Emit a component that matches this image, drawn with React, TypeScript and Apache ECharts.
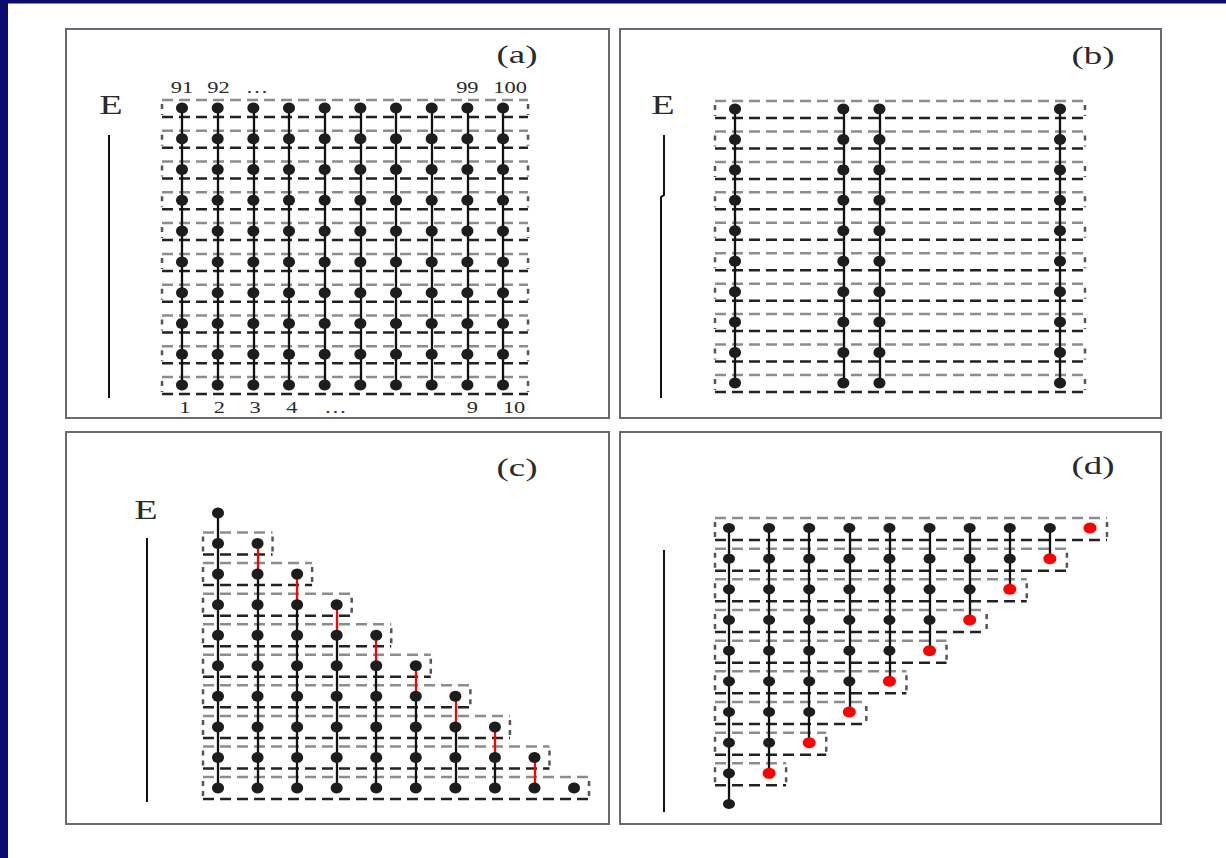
import React, { useEffect, useRef } from "react";
import * as echarts from "echarts";

const W = 1226;
const H = 858;

// ---- data ----
const gridCols = [1, 2, 3, 4, 5, 6, 7, 8, 9, 10];
const gridRows = [1, 2, 3, 4, 5, 6, 7, 8, 9, 10];
const panelBCols = [1, 4, 5, 10];
const topLabels = ["91", "92", "…", "99", "100"];
const topLabelCols = [1, 2.02, 3.1, 9, 10.2];
const bottomLabels = ["1", "2", "3", "4", "…", "9", "10"];
const bottomLabelCols = [1.08, 2.05, 3.05, 4.08, 5.3, 9.14, 10.31];
// panel (c): column k starts at row cTopRow[k-1] and ends at row 10
const cTopRow = [1, 2, 3, 4, 5, 6, 7, 8, 9, 10];
// panel (c): columns whose first link is red
const cRedCols = [2, 3, 4, 5, 6, 7, 8, 9];
// panel (c): dashed boxes [row, last column]
const cBoxes = [[2, 2], [3, 3], [4, 4], [5, 5], [6, 6], [7, 7], [8, 8], [9, 9], [10, 10]];
// panel (d): column k runs from row 1 to row dBottomRow[k-1]
const dBottomRow = [10, 9, 8, 7, 6, 5, 4, 3, 2, 1];
// panel (d): columns whose last node is red
const dRedCols = [2, 3, 4, 5, 6, 7, 8, 9, 10];
// panel (d): dashed boxes [row, last column]
const dBoxes = [[1, 10], [2, 9], [3, 8], [4, 7], [5, 6], [6, 5], [7, 4], [8, 3], [9, 2]];

const FONT = "'Liberation Serif', 'Times New Roman', serif";
const DOT = "#1d1d1d";
const RED = "#ff0000";
const STRETCH = 1.42;

type Pad = { l: number; r: number; t: number; b: number };

function boxSeries(idx: number, boxes: number[][], pad: Pad) {
  return {
    type: "custom",
    xAxisIndex: idx,
    yAxisIndex: idx,
    silent: true,
    clip: false,
    z: 1,
    data: boxes,
    renderItem: (params: any, api: any) => {
      const row = api.value(0);
      const last = api.value(1);
      const p1 = api.coord([1, row]);
      const p2 = api.coord([last, row]);
      const x0 = p1[0] - pad.l;
      const x1 = p2[0] + pad.r;
      const y0 = p1[1] - pad.t;
      const y1 = p1[1] + pad.b;
      return {
        type: "group",
        children: [
          { type: "line", shape: { x1: x0, y1: y0, x2: x1, y2: y0 }, style: { stroke: "#8c8c8c", lineWidth: 2.5, lineDash: [11, 6] } },
          { type: "line", shape: { x1: x0, y1: y1, x2: x1, y2: y1 }, style: { stroke: "#222", lineWidth: 2.5, lineDash: [11, 6] } },
          { type: "line", shape: { x1: x0, y1: y0 + 4, x2: x0, y2: y1 - 2 }, style: { stroke: "#555", lineWidth: 2.5, lineDash: [5, 5] } },
          { type: "line", shape: { x1: x1, y1: y0 + 4, x2: x1, y2: y1 - 2 }, style: { stroke: "#555", lineWidth: 2.5, lineDash: [5, 5] } },
        ],
      };
    },
  };
}

function linkSeries(idx: number, segs: number[][][], color: string) {
  return {
    type: "lines",
    coordinateSystem: "cartesian2d",
    xAxisIndex: idx,
    yAxisIndex: idx,
    silent: true,
    z: 2,
    lineStyle: { color, width: 2.3, opacity: 1 },
    data: segs.map((s) => ({ coords: s })),
  };
}

function dotSeries(idx: number, pts: number[][], color: string, size: number[]) {
  return {
    type: "scatter",
    xAxisIndex: idx,
    yAxisIndex: idx,
    silent: true,
    z: 3,
    symbol: "circle",
    symbolSize: size,
    itemStyle: { color, opacity: 1 },
    data: pts,
  };
}

function textSeries(idx: number, labels: string[], cols: number[], row: number, dy: number) {
  return {
    type: "custom",
    xAxisIndex: idx,
    yAxisIndex: idx,
    silent: true,
    clip: false,
    z: 4,
    data: cols.map((c) => [c, row]),
    renderItem: (params: any, api: any) => {
      const p = api.coord([api.value(0), api.value(1)]);
      return {
        type: "text",
        x: p[0],
        y: p[1] + dy,
        scaleX: 1.32,
        style: {
          text: labels[params.dataIndex],
          fill: "#2a2a2a",
          font: `17px ${FONT}`,
          textAlign: "center",
          textVerticalAlign: "middle",
        },
      };
    },
  };
}

function buildOption() {
  const grids = [
    { left: 164.17, top: 92.61, width: 356.7, height: 307.8 },
    { left: 716.94, top: 93.78, width: 361.1, height: 304.4 },
    { left: 198.22, top: 497.72, width: 395.6, height: 305.6 },
    { left: 708.94, top: 512.67, width: 401.1, height: 306.7 },
  ];
  const xAxis = grids.map((_, i) => ({ type: "value", gridIndex: i, min: 0.5, max: 10.5, show: false }));
  const yAxis = grids.map((_, i) => ({ type: "value", gridIndex: i, min: 0.5, max: 10.5, inverse: true, show: false }));

  // panel (a)
  const aDots: number[][] = [];
  gridCols.forEach((c) => gridRows.forEach((r) => aDots.push([c, r])));
  const aSegs = gridCols.map((c) => [[c, 1], [c, 10]]);
  const aBoxes = gridRows.map((r) => [r, 10]);

  // panel (b)
  const bDots: number[][] = [];
  panelBCols.forEach((c) => gridRows.forEach((r) => bDots.push([c, r])));
  const bSegs = panelBCols.map((c) => [[c, 1], [c, 10]]);

  // panel (c)
  const cDots: number[][] = [];
  const cBlack: number[][][] = [];
  const cRed: number[][][] = [];
  gridCols.forEach((c, i) => {
    const top = cTopRow[i];
    for (let r = top; r <= 10; r++) cDots.push([c, r]);
    if (cRedCols.includes(c)) {
      cRed.push([[c, top], [c, top + 1]]);
      if (top + 1 < 10) cBlack.push([[c, top + 1], [c, 10]]);
    } else if (top < 10) {
      cBlack.push([[c, top], [c, 10]]);
    }
  });

  // panel (d)
  const dDots: number[][] = [];
  const dRedDots: number[][] = [];
  const dSegs: number[][][] = [];
  gridCols.forEach((c, i) => {
    const bot = dBottomRow[i];
    const red = dRedCols.includes(c);
    for (let r = 1; r <= bot; r++) {
      if (red && r === bot) dRedDots.push([c, r]);
      else dDots.push([c, r]);
    }
    if (bot > 1) dSegs.push([[c, 1], [c, bot]]);
  });

  const padAB = { l: 20, r: 25, t: 8, b: 9 };
  const padC = { l: 15, r: 15, t: 11, b: 11 };
  const padD = { l: 14, r: 17, t: 10, b: 12 };

  const series: any[] = [
    boxSeries(0, aBoxes, padAB),
    linkSeries(0, aSegs, "#111"),
    dotSeries(0, aDots, DOT, [12, 11]),
    textSeries(0, topLabels, topLabelCols, 1, -21),
    textSeries(0, bottomLabels, bottomLabelCols, 10, 22),

    boxSeries(1, aBoxes, padAB),
    linkSeries(1, bSegs, "#111"),
    dotSeries(1, bDots, DOT, [12, 11]),

    boxSeries(2, cBoxes, padC),
    linkSeries(2, cBlack, "#111"),
    linkSeries(2, cRed, RED),
    dotSeries(2, cDots, DOT, [12, 11]),

    boxSeries(3, dBoxes, padD),
    linkSeries(3, dSegs, "#111"),
    dotSeries(3, dDots, DOT, [12, 10]),
    dotSeries(3, dRedDots, RED, [13, 11]),
  ];

  const frame = (x: number, y: number, w: number, h: number) => ({
    type: "rect",
    shape: { x, y, width: w, height: h },
    style: { fill: "none", stroke: "#6a6a6a", lineWidth: 2 },
    silent: true,
  });
  const txt = (t: string, x: number, y: number, size: number) => ({
    type: "text",
    x,
    y,
    scaleX: STRETCH,
    style: { text: t, font: `${size}px ${FONT}`, fill: "#2a2a2a", textAlign: "center", textVerticalAlign: "middle" },
    silent: true,
  });
  const vline = (x: number, y1: number, y2: number) => ({
    type: "line",
    shape: { x1: x, y1, x2: x, y2 },
    style: { stroke: "#111", lineWidth: 2 },
    silent: true,
  });

  const graphic = [
    { type: "rect", shape: { x: 0, y: 0, width: 8, height: H }, style: { fill: "#0c0c70" }, silent: true },
    { type: "rect", shape: { x: 0, y: 0, width: W, height: 3.5 }, style: { fill: "#0c0c70" }, silent: true },
    frame(66, 29, 543, 389),
    frame(620, 29, 541, 389),
    frame(66, 432, 543, 392),
    frame(620, 432, 541, 392),
    txt("E", 111, 105, 27),
    txt("E", 663, 105, 27),
    txt("E", 146, 510, 27),
    txt("(a)", 517, 54, 26),
    txt("(b)", 1093, 55, 26),
    txt("(c)", 517, 467, 26),
    txt("(d)", 1093, 465, 26),
    vline(109, 135, 398),
    {
      type: "polyline",
      shape: { points: [[664, 135], [664, 195], [661, 197], [661, 398]] },
      style: { stroke: "#111", lineWidth: 2, fill: "none" },
      silent: true,
    },
    vline(147, 538, 802),
    vline(664, 550, 812),
  ];

  return {
    animation: false,
    backgroundColor: "#ffffff",
    grid: grids.map((g) => ({ ...g, containLabel: false })),
    xAxis,
    yAxis,
    series,
    graphic,
  };
}

export default function App() {
  const ref = useRef<HTMLDivElement>(null);
  useEffect(() => {
    document.body.style.margin = "0";
    const chart = echarts.init(ref.current!, null, { renderer: "svg", width: W, height: H });
    chart.setOption(buildOption() as any);
    return () => chart.dispose();
  }, []);
  return <div ref={ref} style={{ width: W, height: H, overflow: "hidden" }} />;
}
